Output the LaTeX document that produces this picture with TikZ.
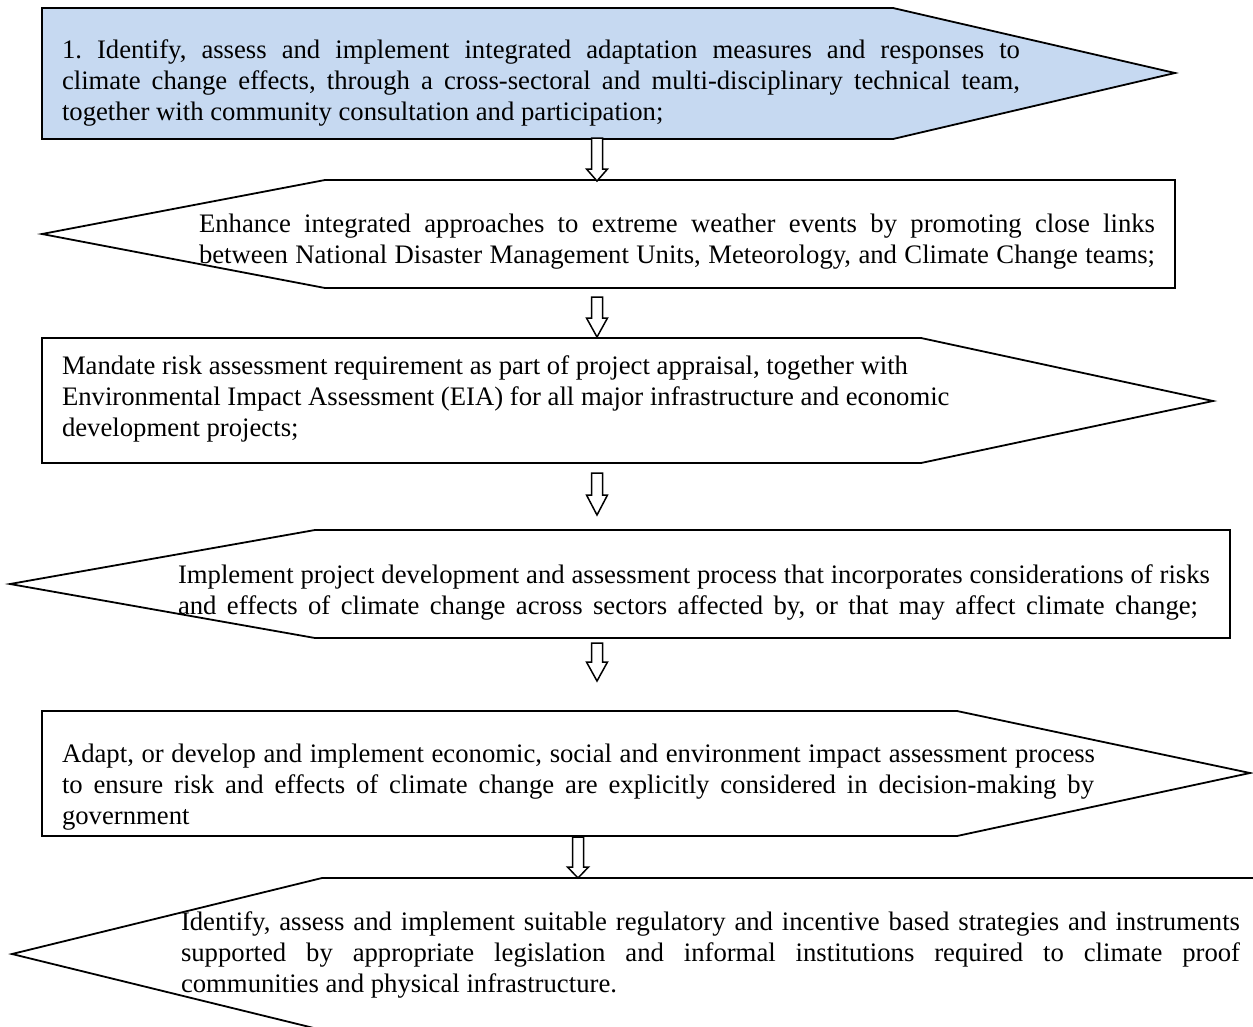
\documentclass[tikz,border=0pt]{standalone}
\usepackage{fontspec}
\setmainfont{Liberation Serif}
\definecolor{stepblue}{HTML}{C6D9F1}
\newcommand{\fstrut}{\rule{0pt}{22pt}}
\newcommand{\jline}[2]{\makebox[#1pt][s]{#2}}
% block arrow: name, x, y top, y tip, head length (canvas units, upwards)
\newcommand{\blockarrowat}[5]{%
  \coordinate (#1) at (#2,#3);
  \coordinate (#1tip) at (#2,#4);
  \draw[arrowline] (#1) ++(-5.5,0) -- ++(11,0) -- ([xshift=5.5pt,yshift=#5pt]#1tip)
    -- ([xshift=10.5pt,yshift=#5pt]#1tip) -- (#1tip) -- ([xshift=-10.5pt,yshift=#5pt]#1tip)
    -- ([xshift=-5.5pt,yshift=#5pt]#1tip) -- cycle;}
\frenchspacing
\begin{document}
\begin{tikzpicture}[x=1pt,y=-1pt,
  panel/.style={draw=black, line width=1.8pt, line join=miter},
  txt/.style={anchor=north west, inner sep=0pt, outer sep=0pt, align=left, font=\fontsize{26.7}{31}\selectfont\frenchspacing},
  arrowline/.style={draw=black, fill=white, line width=1.5pt, line join=miter}]
\useasboundingbox (0,0) rectangle (1253,1026);
\clip (0,0) rectangle (1253,1026);
\fill[white] (0,0) rectangle (1253,1026);
% panels
\draw[panel, fill=stepblue] (42,8) -- (893,8) -- (1175,73) -- (893,139) -- (42,139) -- cycle;
\draw[panel] (1175,180) -- (325,180) -- (42,234) -- (325,288) -- (1175,288) -- cycle;
\draw[panel] (42,338) -- (921,338) -- (1213,401) -- (921,463) -- (42,463) -- cycle;
\draw[panel] (1230,530) -- (315,530) -- (10,584) -- (315,638) -- (1230,638) -- cycle;
\draw[panel] (42,711) -- (957,711) -- (1250,773) -- (957,836) -- (42,836) -- cycle;
\draw[panel] (1280,878) -- (322,878) -- (12,954) -- (322,1030) -- (1280,1030) -- cycle;
% texts
\node[txt] (t1) at (62,36) {\fstrut\jline{958}{1. Identify, assess and implement integrated adaptation measures and responses to}\\
\jline{958}{climate change effects, through a cross-sectoral and multi-disciplinary technical team,}\\
together with community consultation and participation;};
\node[txt] (t2) at (199,210) {\fstrut\jline{956}{Enhance integrated approaches to extreme weather events by promoting close links}\\
\jline{956}{between National Disaster Management Units, Meteorology, and Climate Change teams;}};
\node[txt] (t3) at (62,352) {\fstrut Mandate risk assessment requirement as part of project appraisal, together with\\
Environmental Impact Assessment (EIA) for all major infrastructure and economic\\
development projects;};
\node[txt] (t4) at (178,561) {\fstrut\jline{1032}{Implement project development and assessment process that incorporates considerations of risks}\\
\jline{1020}{and effects of climate change across sectors affected by, or that may affect climate change;}};
\node[txt] (t5) at (62,740) {\fstrut\jline{1033}{Adapt, or develop and implement economic, social and environment impact assessment process}\\
\jline{1032}{to ensure risk and effects of climate change are explicitly considered in decision-making by}\\
government};
\node[txt] (t6) at (181,908) {\fstrut\jline{1059}{Identify, assess and implement suitable regulatory and incentive based strategies and instruments}\\
\jline{1059}{supported by appropriate legislation and informal institutions required to climate proof}\\
communities and physical infrastructure.};
% block arrows
\blockarrowat{a1}{597}{138}{181}{12}
\blockarrowat{a2}{597}{297}{337}{19}
\blockarrowat{a3}{597}{473}{515}{20}
\blockarrowat{a4}{597}{643}{681}{19}
\blockarrowat{a5}{578}{837}{878}{11}
\end{tikzpicture}
\end{document}
